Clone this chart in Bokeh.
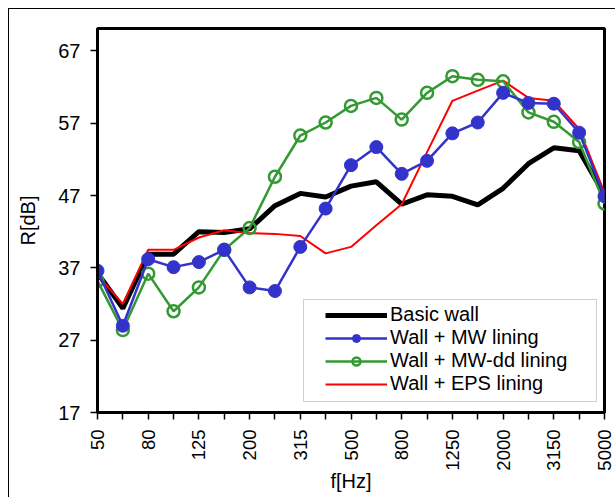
from bokeh.plotting import figure
from bokeh.models import Range1d, FixedTicker, Legend, LegendItem, BoxAnnotation
from bokeh.embed import file_html
from bokeh.resources import INLINE
import math

freqs = ["50", "63", "80", "100", "125", "160", "200", "250", "315", "400", "500",
         "630", "800", "1000", "1250", "1600", "2000", "2500", "3150", "4000", "5000"]
basic_wall = [36.3, 31.4, 38.9, 38.9, 42.0, 41.9, 42.4, 45.6, 47.3, 46.8, 48.3,
              48.9, 45.8, 47.1, 46.9, 45.7, 48.0, 51.4, 53.6, 53.2, 47.1]
mw_lining = [36.6, 29.0, 38.2, 37.1, 37.8, 39.5, 34.3, 33.8, 39.9, 45.2, 51.2,
             53.7, 50.0, 51.8, 55.6, 57.1, 61.2, 59.8, 59.7, 55.7, 46.9]
mwdd_lining = [35.2, 28.4, 36.2, 31.0, 34.3, 39.5, 42.5, 49.6, 55.3, 57.1, 59.4,
               60.5, 57.5, 61.2, 63.5, 63.0, 62.8, 58.5, 57.2, 54.4, 45.9]
eps_lining = [36.0, 32.0, 39.5, 39.5, 41.2, 42.2, 41.8, 41.7, 41.4, 39.0, 39.9,
              42.9, 45.8, 53.0, 60.1, 61.5, 62.9, 60.5, 60.1, 56.2, 47.4]
y_ticks = [17, 27, 37, 47, 57, 67]

x = list(range(len(freqs)))
FONT = "Liberation Sans"

p = figure(width=607, height=489, output_backend="svg", toolbar_location=None,
           x_range=Range1d(0, len(freqs) - 1), y_range=Range1d(17, 70.1),
           min_border_left=88, min_border_right=12, min_border_top=19, min_border_bottom=86,
           styles={"margin-left": "8px", "margin-top": "8px",
                   "border-top": "1px solid black", "border-left": "1px solid black"})
p.grid.visible = False
p.outline_line_color = "black"
p.outline_line_width = 3

p.xaxis.ticker = FixedTicker(ticks=x)
p.xaxis.major_label_overrides = {i: (f if i % 2 == 0 else "") for i, f in enumerate(freqs)}
p.xaxis.major_label_orientation = math.pi / 2
p.yaxis.ticker = FixedTicker(ticks=y_ticks)
for ax in (p.xaxis, p.yaxis):
    ax.axis_line_width = 3
    ax.axis_line_color = "black"
    ax.major_tick_in = 0
    ax.major_tick_out = 7
    ax.major_tick_line_width = 1.5
    ax.minor_tick_line_color = None
    ax.major_label_text_font = FONT
    ax.major_label_text_color = "black"
    ax.major_label_standoff = 10
    ax.axis_label_text_font = FONT
    ax.axis_label_text_font_style = "normal"
    ax.axis_label_text_font_size = "20px"
    ax.axis_label_text_color = "black"
p.xaxis.major_label_text_font_size = "18.5px"
p.yaxis.major_label_text_font_size = "20px"
p.xaxis.axis_label = "f[Hz]"
p.yaxis.axis_label = "R[dB]"
p.xaxis.axis_label_standoff = -4
p.yaxis.axis_label_standoff = 16

BLUE = "#3333cc"
GREEN = "#339933"
RED = "#ff0000"

r_basic = p.line(x, basic_wall, line_color="black", line_width=5)
r_eps = p.line(x, eps_lining, line_color=RED, line_width=2)
r_mwdd_l = p.line(x, mwdd_lining, line_color=GREEN, line_width=2.5)
r_mwdd_m = p.scatter(x, mwdd_lining, marker="circle", size=12, fill_color="white",
                     fill_alpha=0, line_color=GREEN, line_width=2.5)
r_mw_l = p.line(x, mw_lining, line_color=BLUE, line_width=2.5)
r_mw_m = p.scatter(x, mw_lining, marker="circle", size=13, fill_color=BLUE, line_color=BLUE)

# legend frame (drawn separately so its padding can differ from the entries' layout)
legend_box = BoxAnnotation(left=206, right=499, bottom=11, top=113,
                           left_units="screen", right_units="screen",
                           bottom_units="screen", top_units="screen",
                           fill_color="white", fill_alpha=1,
                           line_color="#666666", line_width=1)
p.add_layout(legend_box)

legend = Legend(items=[
    LegendItem(label="Basic wall", renderers=[r_basic]),
    LegendItem(label="Wall + MW lining", renderers=[r_mw_l, r_mw_m]),
    LegendItem(label="Wall + MW-dd lining", renderers=[r_mwdd_l, r_mwdd_m]),
    LegendItem(label="Wall + EPS lining", renderers=[r_eps]),
], location=(228, 17))
legend.label_text_font = FONT
legend.label_text_font_size = "20px"
legend.label_text_line_height = 1.0
legend.label_text_color = "black"
legend.label_standoff = 3
legend.label_height = 20
legend.glyph_height = 20
legend.glyph_width = 62
legend.spacing = 0
legend.padding = 6
legend.margin = 0
legend.border_line_color = None
legend.background_fill_alpha = 0
p.add_layout(legend, "center")

open("out.html", "w").write(file_html(p, INLINE))
